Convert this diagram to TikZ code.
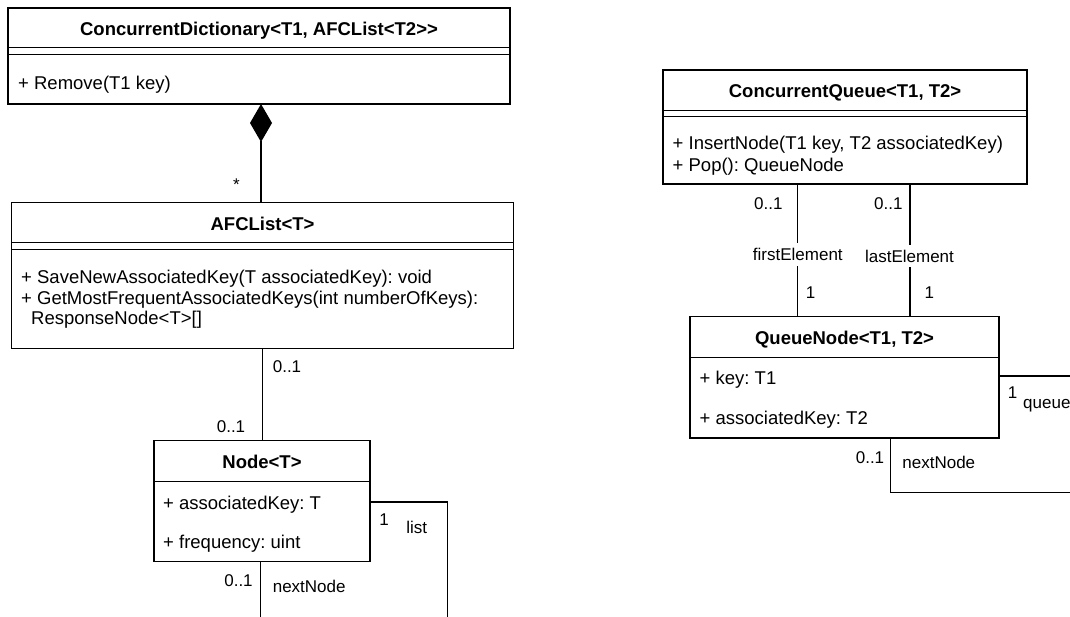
\documentclass[tikz,border=0pt]{standalone}
\usepackage{fontspec}
\setmainfont{Liberation Sans}
\frenchspacing
\usetikzlibrary{arrows.meta}
\begin{document}
\begin{tikzpicture}[x=1pt,y=-1pt,
  line width=1.4pt,
  classbox/.style={draw=black, fill=white, inner sep=0pt, outer sep=0pt, anchor=north west},
  classtitle/.style={font=\fontsize{18.5}{22}\selectfont\bfseries, inner sep=0pt, text height=13.2pt, text depth=0pt},
  member/.style={font=\fontsize{18.5}{22}\selectfont, inner sep=0pt, anchor=west, text height=13.2pt, text depth=0pt},
  mult/.style={font=\fontsize{17}{20}\selectfont, inner sep=0pt, text height=12.2pt, text depth=0pt},
  rolelabel/.style={mult, fill=white, inner xsep=1pt, inner ysep=5pt},
  composition/.style={{Diamond[length=38pt,width=22pt,fill=black]}-}
]
\frenchspacing
\clip (0,0) rectangle (1070,616);

% ---------- classes ----------
\node[classbox, minimum width=502pt, minimum height=96pt] (cd) at (8,8) {};
\draw (cd.west |- 0,47.7) -- (cd.east |- 0,47.7);
\draw (cd.west |- 0,54.3) -- (cd.east |- 0,54.3);
\node[classtitle] (cdt) at (259,28.5) {ConcurrentDictionary<T1, AFCList<T2>{}>};
\node[member] (cdm1) at (17.5,82.5) {+ Remove(T1 key)};

\node[classbox, minimum width=502pt, minimum height=146pt] (afc) at (11.5,202.3) {};
\draw (afc.west |- 0,242.7) -- (afc.east |- 0,242.7);
\draw (afc.west |- 0,249.3) -- (afc.east |- 0,249.3);
\node[classtitle] (afct) at (262.5,223.5) {AFCList<T>};
\node[member] (afcm1) at (20.5,276.7) {+ SaveNewAssociatedKey(T associatedKey): void};
\node[member] (afcm2) at (20.5,298.3) {+ GetMostFrequentAssociatedKeys(int numberOfKeys):};
\node[member] (afcm3) at (30.5,318.3) {ResponseNode<T>[]};

\node[classbox, minimum width=216pt, minimum height=121pt] (nd) at (154,440.7) {};
\draw (nd.west |- 0,481.7) -- (nd.east |- 0,481.7);
\node[classtitle] (ndt) at (262,461.7) {Node<T>};
\node[member] (nda1) at (162.5,502.5) {+ associatedKey: T};
\node[member] (nda2) at (162.5,542.3) {+ frequency: uint};

\node[classbox, minimum width=364pt, minimum height=114pt] (cq) at (663,70) {};
\draw (cq.west |- 0,110.7) -- (cq.east |- 0,110.7);
\draw (cq.west |- 0,116.7) -- (cq.east |- 0,116.7);
\node[classtitle] (cqt) at (845,90.8) {ConcurrentQueue<T1, T2>};
\node[member] (cqm1) at (672,143.3) {+ InsertNode(T1 key, T2 associatedKey)};
\node[member] (cqm2) at (672,165) {+ Pop(): QueueNode};

\node[classbox, minimum width=309pt, minimum height=121.3pt] (qn) at (690,316.7) {};
\draw (qn.west |- 0,357.7) -- (qn.east |- 0,357.7);
\node[classtitle] (qnt) at (844.5,338.3) {QueueNode<T1, T2>};
\node[member] (qna1) at (699,378.3) {+ key: T1};
\node[member] (qna2) at (699,418.3) {+ associatedKey: T2};

% ---------- connectors ----------
\coordinate (comp) at (261,0);
\draw[composition] (comp |- cd.south) -- (comp |- afc.north);
\node[mult] (star) at (236.5,184.7) {*};

\coordinate (lst) at (262.3,0);
\draw (lst |- afc.south) -- (lst |- nd.north);
\node[mult] (lstm1) at (287,366.7) {0..1};
\node[mult] (lstm2) at (231,426) {0..1};

\coordinate (listbend) at (447.5,502);
\coordinate (listend) at (447.5,640);
\draw (nd.east |- listbend) -- (listbend) -- (listend);
\node[mult] (listm) at (384,519) {1};
\node[mult] (listr) at (416.7,527) {list};

\coordinate (ndnext) at (260.7,640);
\draw (ndnext |- nd.south) -- (ndnext);
\node[mult] (ndnextm) at (238.5,580) {0..1};
\node[mult] (ndnextr) at (309.2,586.7) {nextNode};

\coordinate (fe) at (797.3,0);
\coordinate (le) at (910,0);
\draw (fe |- cq.south) -- (fe |- qn.north);
\draw (le |- cq.south) -- (le |- qn.north);
\node[mult] (fem1) at (768.3,203.8) {0..1};
\node[mult] (lem1) at (888.3,203.8) {0..1};
\node[rolelabel] (fer) at (797.8,254.5) {firstElement};
\node[rolelabel] (ler) at (909.5,256) {lastElement};
\node[mult] (fem2) at (810.7,292.5) {1};
\node[mult] (lem2) at (929.3,292.5) {1};

\coordinate (qend) at (1090,376);
\draw (qn.east |- qend) -- (qend);
\node[mult] (qm) at (1012.5,392) {1};
\node[mult, anchor=west] (qr) at (1022.5,402.2) {queue};

\coordinate (qnbend) at (890.7,492.7);
\coordinate (qnend) at (1090,492.7);
\draw (qnbend |- qn.south) -- (qnbend) -- (qnend);
\node[mult] (qnnm) at (870,457) {0..1};
\node[mult] (qnnr) at (938.8,462) {nextNode};
\end{tikzpicture}
\end{document}
